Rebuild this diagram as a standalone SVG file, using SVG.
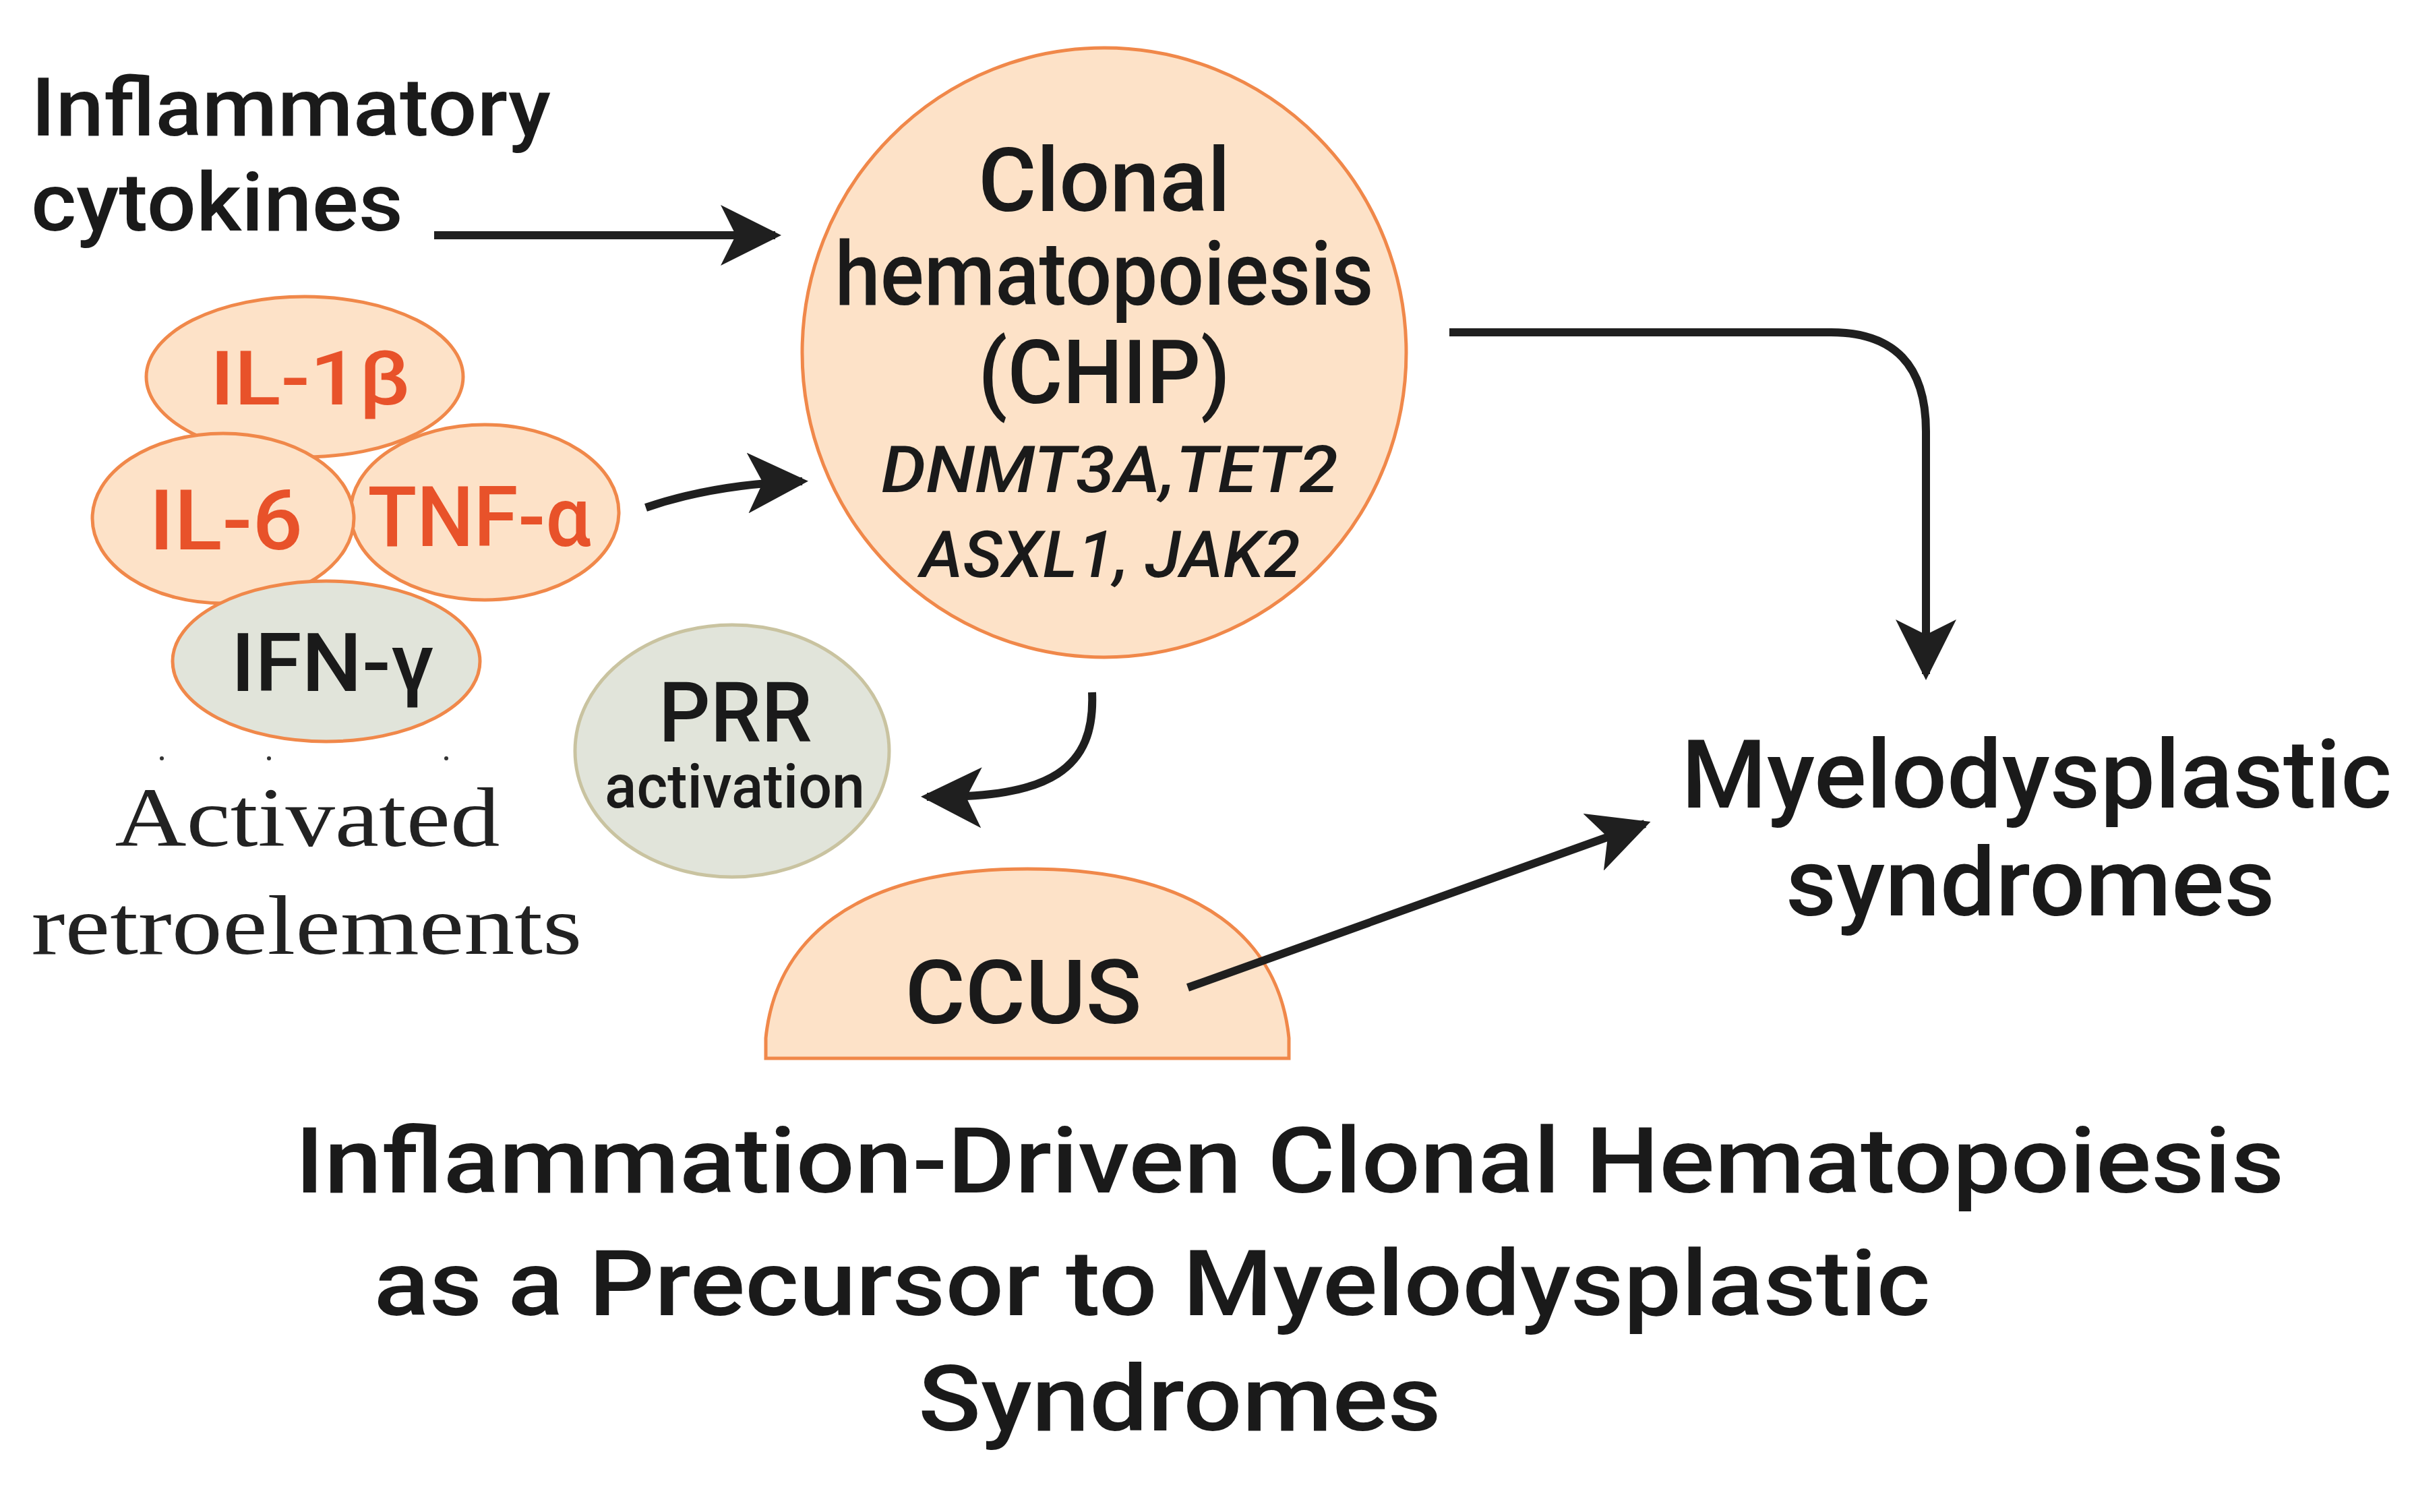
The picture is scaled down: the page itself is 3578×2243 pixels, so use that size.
<svg xmlns="http://www.w3.org/2000/svg" width="3578" height="2243" viewBox="0 0 3578 2243">
<defs>
<style>
.t{font-family:Roboto,"Liberation Sans",sans-serif;font-weight:500;fill:#1a1a1a;text-anchor:middle}
.r{fill:#e8522a}
.s{font-family:"Liberation Serif",serif;fill:#222;text-anchor:middle}
.peach{fill:#fde2c8;stroke:#f0884a;stroke-width:5}
.grey{fill:#e1e4da;stroke:#f0884a;stroke-width:5}
.ln{fill:none;stroke:#1f1f1f;stroke-width:12}
</style>
<marker id="a" viewBox="0 0 10 10" refX="9" refY="5" markerWidth="7.5" markerHeight="7.5" orient="auto">
<path d="M0,0 L10,5 L0,10 L2.5,5 Z" fill="#1f1f1f"/>
</marker>
</defs>
<rect width="3578" height="2243" fill="#fff"/>
<g id="label-cytokines">
<text class="t" x="46" y="201" font-size="120" style="text-anchor:start" textLength="771" lengthAdjust="spacingAndGlyphs">Inflammatory</text>
<text class="t" x="46" y="342" font-size="120" style="text-anchor:start" textLength="552" lengthAdjust="spacingAndGlyphs">cytokines</text>
</g>
<g id="chip">
<ellipse class="peach" cx="1638" cy="523" rx="448" ry="452"/>
<text class="t" x="1638" y="313" font-size="132" textLength="374" lengthAdjust="spacingAndGlyphs">Clonal</text>
<text class="t" x="1638" y="452" font-size="132" textLength="799" lengthAdjust="spacingAndGlyphs">hematopoiesis</text>
<text class="t" x="1638" y="598" font-size="132" font-weight="400" textLength="374" lengthAdjust="spacingAndGlyphs">(CHIP)</text>
<text class="t" x="1646" y="730" font-size="96" font-style="italic" textLength="678" lengthAdjust="spacingAndGlyphs">DNMT3A,TET2</text>
<text class="t" x="1647" y="856" font-size="96" font-style="italic" textLength="564" lengthAdjust="spacingAndGlyphs">ASXL1, JAK2</text>
</g>
<g id="il1b">
<ellipse class="peach" cx="452" cy="559" rx="235" ry="119"/>
<text class="t r" x="460" y="600" font-size="112" font-weight="400" textLength="297" lengthAdjust="spacingAndGlyphs">IL-1β</text>
</g>
<g id="tnfa">
<ellipse class="peach" cx="719" cy="760" rx="199" ry="130"/>
<text class="t r" x="711" y="810" font-size="125" font-weight="400" textLength="331" lengthAdjust="spacingAndGlyphs">TNF-α</text>
</g>
<g id="il6">
<ellipse class="peach" cx="331" cy="769" rx="194" ry="126"/>
<text class="t r" x="335" y="815" font-size="125" font-weight="400" textLength="228" lengthAdjust="spacingAndGlyphs">IL-6</text>
</g>
<g id="ifng">
<ellipse class="grey" cx="484" cy="981" rx="228" ry="119"/>
<text class="t" x="493" y="1025" font-size="120" font-weight="400" textLength="301" lengthAdjust="spacingAndGlyphs">IFN-γ</text>
</g>
<g id="retroelements">
<circle cx="240" cy="1125" r="3" fill="#333"/><circle cx="399" cy="1125" r="3" fill="#333"/><circle cx="662" cy="1125" r="3" fill="#333"/>
<text class="s" x="456" y="1255" font-size="125" textLength="571" lengthAdjust="spacingAndGlyphs">Activated</text>
<text class="s" x="455" y="1415" font-size="125" textLength="817" lengthAdjust="spacingAndGlyphs">retroelements</text>
</g>
<g id="prr">
<ellipse class="grey" cx="1086" cy="1114" rx="233" ry="187" style="stroke:#c9c3a0"/>
<text class="t" x="1091" y="1100" font-size="125" font-weight="400" textLength="228" lengthAdjust="spacingAndGlyphs">PRR</text>
<text class="t" x="1090" y="1198" font-size="90" font-weight="400" textLength="386" lengthAdjust="spacingAndGlyphs">activation</text>
</g>
<g id="ccus">
<path class="peach" d="M1136,1570 L1136,1540 C1150,1400 1260,1289 1524,1289 C1788,1289 1898,1400 1912,1540 L1912,1570 Z"/>
<text class="t" x="1518" y="1518" font-size="132" textLength="351" lengthAdjust="spacingAndGlyphs">CCUS</text>
</g>
<g id="mds">
<text class="t" x="3021" y="1198" font-size="141" textLength="1054" lengthAdjust="spacingAndGlyphs">Myelodysplastic</text>
<text class="t" x="3012" y="1358" font-size="141" textLength="726" lengthAdjust="spacingAndGlyphs">syndromes</text>
</g>
<g id="title">
<text class="t" x="1913" y="1769" font-size="136" textLength="2951" lengthAdjust="spacingAndGlyphs">Inflammation-Driven Clonal Hematopoiesis</text>
<text class="t" x="1709" y="1951" font-size="136" textLength="2309" lengthAdjust="spacingAndGlyphs">as a Precursor to Myelodysplastic</text>
<text class="t" x="1750" y="2122" font-size="136" textLength="776" lengthAdjust="spacingAndGlyphs">Syndromes</text>
</g>
<g id="connectors">
<path class="ln" d="M644,349 L1150,349" marker-end="url(#a)"/>
<path class="ln" d="M958,753 Q1060,718 1190,714" marker-end="url(#a)"/>
<path class="ln" d="M1620,1027 C1625,1140 1560,1185 1375,1182" marker-end="url(#a)"/>
<path class="ln" d="M1762,1465 L2440,1222" marker-end="url(#a)"/>
<path class="ln" d="M2150,493 L2716,493 Q2857,493 2857,640 L2857,1000" marker-end="url(#a)"/>
</g>
</svg>
